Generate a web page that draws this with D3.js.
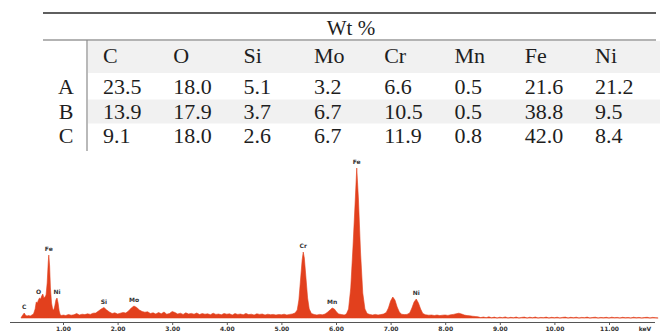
<!DOCTYPE html>
<html>
<head>
<meta charset="utf-8">
<script src="https://cdn.jsdelivr.net/npm/d3@7"></script>
<style>
  html, body { margin: 0; padding: 0; background: #fff; }
  svg { display: block; }
</style>
</head>
<body>
<div id="chart"></div>
<script>
// table data
const elements = ['C', 'O', 'Si', 'Mo', 'Cr', 'Mn', 'Fe', 'Ni'];
const rows = ['A', 'B', 'C'];
const wtA = ['23.5', '18.0', '5.1', '3.2', '6.6', '0.5', '21.6', '21.2'];
const wtB = ['13.9', '17.9', '3.7', '6.7', '10.5', '0.5', '38.8', '9.5'];
const wtC = ['9.1', '18.0', '2.6', '6.7', '11.9', '0.8', '42.0', '8.4'];
const tableTitle = 'Wt %';

// EDS spectrum, [keV, counts]
const spectrum = [
  [0.23, 0], [0.25, 20], [0.27, 35], [0.29, 50], [0.31, 30], [0.34, 20], [0.37, 25], [0.40, 20],
  [0.43, 30], [0.46, 40], [0.49, 90], [0.51, 160], [0.53, 150], [0.55, 180], [0.57, 200], [0.59, 190],
  [0.61, 220], [0.63, 240], [0.65, 200], [0.67, 210], [0.69, 230], [0.71, 350], [0.73, 560], [0.74, 630],
  [0.755, 520], [0.77, 300], [0.79, 150], [0.81, 90], [0.83, 80], [0.85, 120], [0.87, 180], [0.89, 200],
  [0.91, 150], [0.93, 70], [0.95, 30], [0.98, 25],
  [1.00, 30], [1.05, 25], [1.10, 35], [1.15, 28], [1.20, 32], [1.25, 45], [1.30, 30], [1.35, 38],
  [1.40, 34], [1.45, 42], [1.50, 36], [1.55, 48], [1.60, 50], [1.65, 70], [1.70, 90], [1.75, 105],
  [1.80, 80], [1.85, 60], [1.90, 45], [1.95, 52], [2.00, 40], [2.05, 48], [2.10, 55], [2.15, 50],
  [2.20, 70], [2.25, 100], [2.30, 120], [2.35, 105], [2.40, 80], [2.45, 65], [2.50, 58], [2.55, 62],
  [2.60, 45], [2.65, 52], [2.70, 40], [2.75, 55], [2.80, 42], [2.85, 60], [2.90, 38], [2.95, 45],
  [3.00, 65], [3.05, 55], [3.10, 40], [3.15, 48], [3.20, 36], [3.25, 52], [3.30, 40], [3.35, 46],
  [3.40, 38], [3.45, 50], [3.50, 35], [3.55, 44], [3.60, 38], [3.65, 42], [3.70, 33], [3.75, 48],
  [3.80, 36], [3.85, 40], [3.90, 32], [3.95, 45], [4.00, 38], [4.05, 42], [4.10, 30], [4.15, 44],
  [4.20, 36], [4.25, 40], [4.30, 32], [4.35, 46], [4.40, 34], [4.45, 38], [4.50, 30], [4.55, 42],
  [4.60, 36], [4.65, 40], [4.70, 30], [4.75, 38], [4.80, 33], [4.85, 36], [4.90, 30], [4.95, 35],
  [5.00, 32], [5.05, 38], [5.10, 30], [5.15, 36], [5.20, 40],
  [5.25, 50], [5.29, 80], [5.32, 180], [5.35, 380], [5.38, 580], [5.40, 660], [5.42, 600], [5.45, 400],
  [5.48, 200], [5.51, 90], [5.55, 45], [5.60, 35], [5.65, 30], [5.70, 36], [5.75, 32], [5.80, 40],
  [5.85, 60], [5.90, 85], [5.93, 100], [5.97, 90], [6.01, 60], [6.05, 40], [6.10, 35], [6.15, 30],
  [6.19, 40], [6.23, 90], [6.27, 300], [6.31, 700], [6.35, 1150], [6.38, 1500], [6.41, 1200], [6.45, 650],
  [6.49, 250], [6.53, 90], [6.57, 45], [6.62, 35], [6.67, 30], [6.72, 36], [6.77, 30], [6.82, 34],
  [6.87, 40], [6.92, 55], [6.96, 100], [7.00, 170], [7.04, 210], [7.08, 180], [7.12, 110], [7.16, 60],
  [7.20, 38], [7.25, 34], [7.30, 36], [7.35, 50], [7.39, 100], [7.43, 160], [7.47, 190], [7.51, 150],
  [7.55, 90], [7.59, 45], [7.64, 32], [7.70, 28], [7.75, 30], [7.80, 25], [7.85, 30], [7.90, 24],
  [7.95, 28], [8.00, 30], [8.05, 26], [8.10, 32], [8.15, 36], [8.20, 42], [8.25, 48], [8.30, 40],
  [8.35, 30], [8.40, 24], [8.45, 22], [8.50, 18], [8.55, 15], [8.60, 12], [8.65, 4], [8.70, 10],
  [8.75, 3], [8.80, 12], [8.85, 2], [8.90, 9], [8.95, 0], [9.00, 8], [9.05, 3], [9.10, 11],
  [9.15, 0], [9.20, 7], [9.25, 2], [9.30, 10], [9.35, 0], [9.40, 6], [9.45, 9], [9.50, 0],
  [9.55, 8], [9.60, 2], [9.65, 10], [9.70, 0], [9.75, 6], [9.80, 3], [9.85, 9], [9.90, 0],
  [9.95, 7], [10.00, 2], [10.05, 8], [10.10, 0], [10.15, 6], [10.20, 9], [10.25, 0], [10.30, 7],
  [10.35, 2], [10.40, 8], [10.45, 0], [10.50, 6], [10.55, 3], [10.60, 9], [10.65, 0], [10.70, 5],
  [10.75, 8], [10.80, 0], [10.85, 6], [10.90, 2], [10.95, 7], [11.00, 0], [11.05, 8], [11.10, 3],
  [11.15, 6], [11.20, 0], [11.25, 7], [11.30, 2], [11.35, 5], [11.40, 0], [11.45, 8], [11.50, 2],
  [11.55, 6], [11.60, 0], [11.65, 5], [11.70, 7], [11.75, 0], [11.80, 6], [11.85, 3], [11.90, 0]
];
const peakNames = ['C', 'O', 'Fe', 'Ni', 'Si', 'Mo', 'Cr', 'Mn', 'Fe', 'Ni'];
const peakKeV = [0.29, 0.55, 0.74, 0.89, 1.75, 2.30, 5.40, 5.93, 6.38, 7.47];
const tickValues = [1, 2, 3, 4, 5, 6, 7, 8, 9, 10, 11];
const axisUnit = 'keV';

const width = 660, height = 333;
const svg = d3.select('#chart').append('svg')
  .attr('width', width)
  .attr('height', height);

// ---------- table ----------
const serif = "'Liberation Serif', 'Times New Roman', serif";
const colX = d3.scaleBand().domain(elements).range([103, 665.4]);
const rowY = d3.scalePoint().domain(rows).range([94, 143]);
const values = { A: wtA, B: wtB, C: wtC };

const table = svg.append('g').style('font-family', serif).attr('fill', '#1e1e1e');

table.append('rect').attr('x', 88).attr('y', 41).attr('width', 572).attr('height', 32).attr('fill', '#f1f1f1');
table.append('rect').attr('x', 88).attr('y', rowY('B') - 19).attr('width', 572).attr('height', 24).attr('fill', '#f1f1f1');

table.append('line').attr('x1', 43).attr('x2', 656).attr('y1', 13).attr('y2', 13)
  .attr('stroke', '#2a2a2a').attr('stroke-width', 1.4);
table.append('line').attr('x1', 43).attr('x2', 656).attr('y1', 40).attr('y2', 40)
  .attr('stroke', '#9a9a9a').attr('stroke-width', 1.3);
table.append('line').attr('x1', 87).attr('x2', 87).attr('y1', 40).attr('y2', 151)
  .attr('stroke', '#8a8a8a').attr('stroke-width', 1.2);

table.append('text')
  .attr('x', 351).attr('y', 35)
  .attr('text-anchor', 'middle')
  .style('font-size', '21px')
  .text(tableTitle);

table.selectAll('.hdr').data(elements).enter().append('text')
  .attr('class', 'hdr')
  .attr('x', d => colX(d)).attr('y', 63)
  .style('font-size', '22px')
  .text(d => d);

rows.forEach(r => {
  table.append('text')
    .attr('x', 66).attr('y', rowY(r))
    .attr('text-anchor', 'middle')
    .style('font-size', '22px')
    .text(r);
  table.selectAll('.v' + r).data(values[r]).enter().append('text')
    .attr('class', 'v' + r)
    .attr('x', (d, i) => colX(elements[i])).attr('y', rowY(r))
    .style('font-size', '22px')
    .text(d => d);
});

// ---------- spectrum ----------
const x = d3.scaleLinear().domain([0, 1]).range([8.4, 63]);
const y = d3.scaleLinear().domain([0, 1500]).range([318, 168]);

const area = d3.area()
  .x(d => x(d[0]))
  .y0(y(0))
  .y1(d => y(d[1]))
  .curve(d3.curveLinear);

svg.append('path')
  .datum(spectrum)
  .attr('fill', '#e2401d')
  .attr('stroke', '#e2401d')
  .attr('stroke-width', 0.6)
  .attr('d', area);

const axis = d3.axisBottom(x)
  .tickValues(tickValues)
  .tickSize(3)
  .tickPadding(2)
  .tickFormat(d3.format('.2f'));

const gx = svg.append('g')
  .attr('transform', 'translate(0,322)')
  .call(axis);
gx.select('.domain').attr('d', `M10,0.5H655`).attr('stroke', '#555');
gx.selectAll('.tick line').attr('stroke', '#555');
gx.selectAll('.tick text')
  .attr('fill', '#333')
  .style('font-family', "'DejaVu Sans', sans-serif")
  .style('font-size', '6px')
  .style('font-weight', 'bold');

svg.append('text')
  .attr('x', 645).attr('y', 331)
  .attr('text-anchor', 'middle')
  .attr('fill', '#333')
  .style('font-family', "'DejaVu Sans', sans-serif")
  .style('font-size', '6px')
  .style('font-weight', 'bold')
  .text(axisUnit);

// peak labels sit just above the local maximum of the spectrum
peakNames.forEach((name, i) => {
  const k = peakKeV[i];
  const top = d3.max(spectrum.filter(p => Math.abs(p[0] - k) <= 0.05), p => p[1]);
  svg.append('text')
    .attr('x', x(k)).attr('y', y(top) - 4)
    .attr('text-anchor', 'middle')
    .attr('fill', '#333')
    .style('font-family', "'DejaVu Sans', sans-serif")
    .style('font-size', '6px')
    .style('font-weight', 'bold')
    .text(name);
});
</script>
</body>
</html>
